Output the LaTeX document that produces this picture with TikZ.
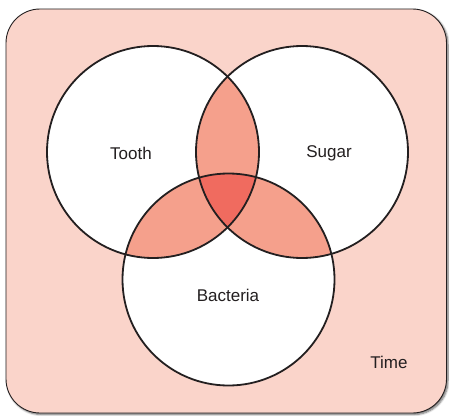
\documentclass[tikz,border=0pt]{standalone}
\usepackage{fontspec}
\setmainfont{Liberation Sans}
\usetikzlibrary{shadows.blur}
\definecolor{bgpink}{HTML}{FAD4CA}
\definecolor{pairpink}{HTML}{F5A08C}
\definecolor{triplered}{HTML}{F06B5F}
\definecolor{inkdark}{HTML}{231F20}
\tikzset{
  setcircle/.style={circle, minimum size=212pt, inner sep=0pt, draw=inkdark, line width=1.8pt},
  setlabel/.style={text=inkdark, font=\fontsize{17}{20}\selectfont, inner sep=0pt},
}
\begin{document}
\begin{tikzpicture}[x=1pt,y=-1pt]
\useasboundingbox (0,0) rectangle (449,415);
% background panel
\draw[fill=bgpink, draw=inkdark, line width=0.9pt, rounded corners=34pt,
      blur shadow={shadow xshift=1.5pt, shadow yshift=-1.5pt, shadow blur steps=6, shadow blur radius=2pt, shadow opacity=60}]
  (6,9) rectangle (446.5,413);
% circle centres
\coordinate (ct) at (153,152);
\coordinate (cs) at (302,152);
\coordinate (cb) at (228.5,279.5);
% white discs
\fill[white] (ct) circle (106);
\fill[white] (cs) circle (106);
\fill[white] (cb) circle (106);
% pairwise overlaps
\begin{scope}
  \clip (ct) circle (106);
  \fill[pairpink] (cs) circle (106);
  \fill[pairpink] (cb) circle (106);
\end{scope}
\begin{scope}
  \clip (cs) circle (106);
  \fill[pairpink] (cb) circle (106);
\end{scope}
% triple overlap
\begin{scope}
  \clip (ct) circle (106);
  \clip (cs) circle (106);
  \fill[triplered] (cb) circle (106);
\end{scope}
% outlines as named nodes
\node[setcircle] (tooth) at (ct) {};
\node[setcircle] (sugar) at (cs) {};
\node[setcircle] (bacteria) at (cb) {};
% labels
\node[setlabel] (ltooth) at (131,153) {Tooth};
\node[setlabel] (lsugar) at (329,153) {Sugar};
\node[setlabel] (lbacteria) at (228,295) {Bacteria};
\node[setlabel] (ltime) at (389,362) {Time};
\end{tikzpicture}
\end{document}
